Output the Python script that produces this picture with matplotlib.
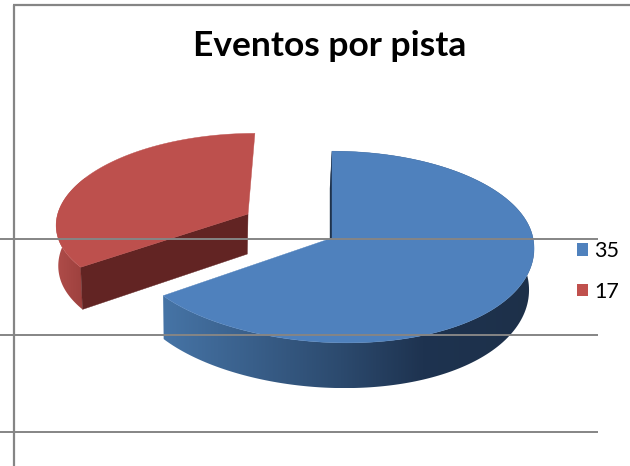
import numpy as np
import matplotlib
matplotlib.use("Agg")
import matplotlib.pyplot as plt
from matplotlib.colors import LinearSegmentedColormap
from matplotlib.patches import Patch, Polygon

plt.rcParams['font.family'] = ['Lato', 'DejaVu Sans']

title = "Eventos por pista"
labels = ["35", "17"]
values = [35, 17]
explode = [0.0, 0.5]
radius = [1.0, 0.97]

top_colors = ["#4f81bd", "#bd504d"]
cut_colors = ["#1d3049", "#622423"]
rule_color = "#858585"

# projection of the pie plane onto the page, in pixels
cx, cy = 332, 238
rx, ry = 201, 95
persp = 0.094
warp = 9
front_shear = 15
depth = 41
vanish_x, shrink = 200, 0.985


def project(u, v):
    s = 1 / (1 - persp * v)
    x = cx + rx * u * s + front_shear * np.clip(v, 0, None) ** 2
    return x, cy + ry * v * s, s


def flat_point(theta, r=1.0, ox=0.0, oy=0.0):
    # theta in degrees, clockwise from 12 o'clock
    t = np.radians(theta - warp * np.sin(np.radians(2 * theta)))
    return ox + r * np.sin(t), oy - r * np.cos(t)


def top_point(u, v):
    x, y, _ = project(u, v)
    return np.column_stack([x, y]).reshape(-1, 2)


def bottom_point(u, v):
    x, y, s = project(u, v)
    x = vanish_x + (x - vanish_x) * shrink
    return np.column_stack([x, y + depth * s]).reshape(-1, 2)


def wall(ax, a0, a1, r, ox, oy, cmap, x0, x1, z):
    th = np.linspace(a0, a1, 200)
    u, v = flat_point(th, r, ox, oy)
    pts = np.vstack([top_point(u, v), bottom_point(u, v)[::-1]])
    poly = Polygon(pts, closed=True, fc="none", ec="none", transform=ax.transData)
    ax.add_patch(poly)
    img = ax.imshow(np.linspace(0, 1, 256).reshape(1, -1), cmap=cmap, aspect="auto",
                    extent=(x0, x1, pts[:, 1].max(), pts[:, 1].min()), zorder=z)
    img.set_clip_path(poly)


fig = plt.figure(figsize=(6.3, 4.66), dpi=100)
ax = fig.add_axes([0, 0, 1, 1])

blue_wall = LinearSegmentedColormap.from_list(
    "blue_wall", [(0, "#4674a6"), (0.48, "#2c4a6e"), (0.70, "#1e3350"), (1, "#1d3049")])
red_wall = LinearSegmentedColormap.from_list("red_wall", [(0, "#b04d4a"), (1, "#9c403d")])
wall_maps = [(blue_wall, 163, 534), (red_wall, 55, 85)]

# slices run clockwise from 12 o'clock, each pulled out along its own middle
start = 0.0
for i, val in enumerate(values):
    sweep = 360.0 * val / sum(values)
    end = start + sweep
    mid = np.radians(start + sweep / 2)
    ox, oy = explode[i] * np.sin(mid), -explode[i] * np.cos(mid)
    z = 2 + i * 3

    cmap, x0, x1 = wall_maps[i]
    wall(ax, start, end, radius[i], ox, oy, cmap, x0, x1, z)

    # only the leading cut face of each slice looks toward the viewer
    u, v = flat_point(np.array([start]), radius[i], ox, oy)
    a_u, a_v = np.array([ox]), np.array([oy])
    face = np.vstack([top_point(a_u, a_v), top_point(u, v),
                      bottom_point(u, v), bottom_point(a_u, a_v)])
    ax.add_patch(Polygon(face, closed=True, fc=cut_colors[i], ec=cut_colors[i], lw=0.3, zorder=z + 0.5))

    th = np.linspace(start, end, 300)
    u, v = flat_point(th, radius[i], ox, oy)
    rim = top_point(u, v)
    apex = top_point(a_u, a_v)
    ax.add_patch(Polygon(np.vstack([apex, rim]), closed=True, fc=top_colors[i],
                         ec=top_colors[i], lw=0.3, zorder=z + 1))
    start = end

# stray page rules running across everything
for y in (238.5, 335, 432):
    ax.plot([0, 598], [y, y], color=rule_color, lw=1.4, zorder=10, solid_capstyle="butt")
ax.plot([14, 14], [5, 466], color=rule_color, lw=1.6, zorder=10, solid_capstyle="butt")
ax.plot([13, 630], [5, 5], color=rule_color, lw=1.6, zorder=10, solid_capstyle="butt")

ax.text(329.5, 46, title, fontsize=25.5, fontweight="bold", color="black",
        ha="center", va="center", zorder=11)

handles = [Patch(fc=c, ec="none") for c in ("#4f81bd", "#c0504d")]
ax.legend(handles, labels, loc="upper left", bbox_to_anchor=(575 / 630, 1 - 239 / 466),
          frameon=False, fontsize=15.5, handlelength=0.52, handleheight=0.55,
          handletextpad=0.28, labelspacing=0.95, borderpad=0.1, borderaxespad=0)

ax.set_xlim(0, 630)
ax.set_ylim(466, 0)
ax.axis("off")

fig.savefig("out.png", dpi=100, facecolor="white")
